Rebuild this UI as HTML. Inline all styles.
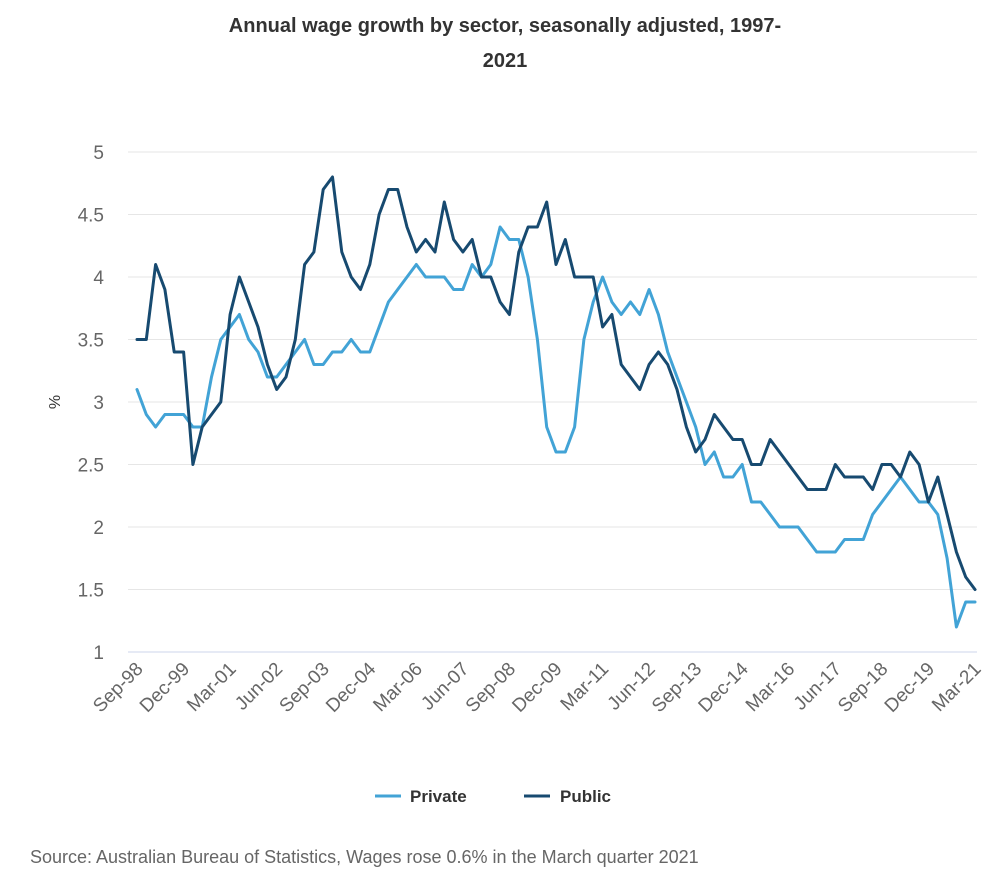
<!DOCTYPE html>
<html><head><meta charset="utf-8">
<style>
body{margin:0;background:#fff;}
svg{display:block;font-family:"Liberation Sans","DejaVu Sans",sans-serif;}
</style></head>
<body>
<svg id="chart" width="994" height="887" viewBox="0 0 994 887">
<text x="505" y="32" text-anchor="middle" font-size="20" fill="#333" font-weight="bold">Annual wage growth by sector, seasonally adjusted, 1997-</text>
<text x="505" y="67" text-anchor="middle" font-size="20" fill="#333" font-weight="bold">2021</text>
<text transform="translate(60,402) rotate(-90)" text-anchor="middle" font-size="16" fill="#333">%</text>
<g id="grid"></g><g id="xlabels"></g><g id="series"></g>
<g>
<g><line x1="375" y1="796" x2="401" y2="796" stroke="#42a3d6" stroke-width="3"/><text x="410" y="802" font-size="17" font-weight="bold" fill="#333">Private</text></g>
<g><line x1="524" y1="796" x2="550" y2="796" stroke="#174a70" stroke-width="3"/><text x="560" y="802" font-size="17" font-weight="bold" fill="#333">Public</text></g>
</g>
<text x="30" y="863" font-size="18" fill="#666">Source: Australian Bureau of Statistics, Wages rose 0.6% in the March quarter 2021</text>
</svg>
<script>
const tickLabels=["Sep-98","Dec-99","Mar-01","Jun-02","Sep-03","Dec-04","Mar-06","Jun-07","Sep-08","Dec-09","Mar-11","Jun-12","Sep-13","Dec-14","Mar-16","Jun-17","Sep-18","Dec-19","Mar-21"];
const yTicks=[1,1.5,2,2.5,3,3.5,4,4.5,5];
const privateVals=[3.1,2.9,2.8,2.9,2.9,2.9,2.8,2.8,3.2,3.5,3.6,3.7,3.5,3.4,3.2,3.2,3.3,3.4,3.5,3.3,3.3,3.4,3.4,3.5,3.4,3.4,3.6,3.8,3.9,4.0,4.1,4.0,4.0,4.0,3.9,3.9,4.1,4.0,4.1,4.4,4.3,4.3,4.0,3.5,2.8,2.6,2.6,2.8,3.5,3.8,4.0,3.8,3.7,3.8,3.7,3.9,3.7,3.4,3.2,3.0,2.8,2.5,2.6,2.4,2.4,2.5,2.2,2.2,2.1,2.0,2.0,2.0,1.9,1.8,1.8,1.8,1.9,1.9,1.9,2.1,2.2,2.3,2.4,2.3,2.2,2.2,2.1,1.75,1.2,1.4,1.4];
const publicVals=[3.5,3.5,4.1,3.9,3.4,3.4,2.5,2.8,2.9,3.0,3.7,4.0,3.8,3.6,3.3,3.1,3.2,3.5,4.1,4.2,4.7,4.8,4.2,4.0,3.9,4.1,4.5,4.7,4.7,4.4,4.2,4.3,4.2,4.6,4.3,4.2,4.3,4.0,4.0,3.8,3.7,4.2,4.4,4.4,4.6,4.1,4.3,4.0,4.0,4.0,3.6,3.7,3.3,3.2,3.1,3.3,3.4,3.3,3.1,2.8,2.6,2.7,2.9,2.8,2.7,2.7,2.5,2.5,2.7,2.6,2.5,2.4,2.3,2.3,2.3,2.5,2.4,2.4,2.4,2.3,2.5,2.5,2.4,2.6,2.5,2.2,2.4,2.1,1.8,1.6,1.5];
const NS="http://www.w3.org/2000/svg";
const x0=137,x1=975,y0=652,y1=152,n=privateVals.length;
const xs=i=>x0+(x1-x0)*i/(n-1);
const ys=v=>y0-(v-1)/(5-1)*(y0-y1);
function mk(t,a,p){const e=document.createElementNS(NS,t);for(const k in a)e.setAttribute(k,a[k]);p.appendChild(e);return e;}
const grid=document.getElementById('grid');
yTicks.forEach(v=>{
  const l=mk('line',{x1:128,x2:977,y1:ys(v),y2:ys(v),stroke:v===1?'#ccd6eb':'#e6e6e6','stroke-width':1},grid);
  
  
  const t=mk('text',{x:104,y:ys(v)+7,'text-anchor':'end','font-size':19,fill:'#666'},grid);
  t.textContent=String(v);
  
  
});
const xl=document.getElementById('xlabels');
tickLabels.forEach((lab,k)=>{
  const x=xs(k*5)+7,y=670;
  const t=mk('text',{x:x,y:y,'text-anchor':'end','font-size':19,fill:'#666',transform:`rotate(-45 ${x} ${y})`},xl);
  t.textContent=lab;
  
  
});
const sg=document.getElementById('series');
function line(vals,color,name){
  const d=vals.map((v,i)=>(i?'L':'M')+xs(i).toFixed(1)+' '+ys(v).toFixed(1)).join(' ');
  const p=mk('path',{d:d,fill:'none',stroke:color,'stroke-width':3,'stroke-linejoin':'round','stroke-linecap':'round'},sg);
  
  
}
line(privateVals,'#42a3d6','private-line');
line(publicVals,'#174a70','public-line');
</script>
</body></html>
